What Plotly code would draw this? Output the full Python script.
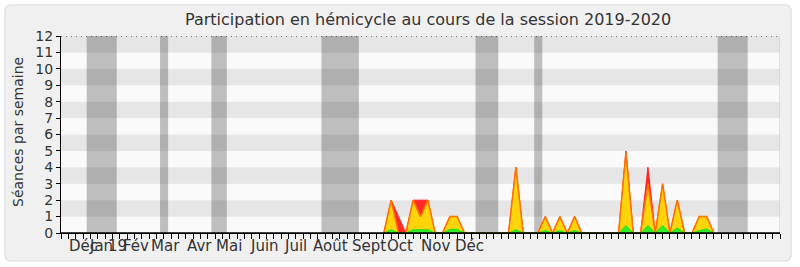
import plotly.graph_objects as go

# ---- data (weekly index on x) ----
weeks = list(range(44, 90))
seances_total = [0, 2, 1, 0, 2, 2, 2, 0, 0, 1, 1, 0, 0, 0, 0, 0, 0, 0, 4, 0, 0, 0, 1, 0, 1, 0, 1, 0,
                 0, 0, 0, 0, 0, 5, 0, 0, 4, 0, 3, 0, 2, 0, 0, 1, 1, 0]
presences = [0, 2, 0, 0, 2, 1, 2, 0, 0, 1, 1, 0, 0, 0, 0, 0, 0, 0, 4, 0, 0, 0, 1, 0, 1, 0, 1, 0,
             0, 0, 0, 0, 0, 4.9, 0, 0, 3, 0, 3, 0, 2, 0, 0, 1, 1, 0]
interventions = [0, 0.2, 0, 0, 0.2, 0.2, 0.2, 0, 0, 0.22, 0.22, 0, 0, 0, 0, 0, 0, 0, 0.2, 0, 0, 0, 0.15, 0,
                 0.15, 0, 0.15, 0, 0, 0, 0, 0, 0, 0.45, 0, 0, 0.45, 0, 0.45, 0, 0.3, 0, 0, 0.15, 0.25, 0]

vacances = [(3.5, 7.6), (13.5, 14.6), (20.5, 22.6), (35.5, 40.6), (56.5, 59.6), (64.5, 65.6), (89.5, 93.6)]

month_labels = ["Déc", "Jan", "19", "Fév", "Mar", "Avr", "Mai", "Juin", "Juil", "Août", "Sept", "Oct", "Nov", "Déc"]
month_pos = [3.0, 5.4, 7.7, 10.2, 14.2, 18.9, 22.9, 27.8, 31.9, 36.8, 42.0, 46.2, 51.0, 55.7]

XMAX = 98
YMAX = 12
FONT = "DejaVu Sans"

# layout geometry (pixels)
W, H = 800, 267
L, R, T, B = 61, 20, 36, 34
pw, ph = W - L - R, H - T - B


def px2paper(x, y):
    return (x - L) / pw, (H - B - y) / ph


fig = go.Figure()

fig.add_trace(go.Scatter(x=weeks, y=seances_total, mode="lines", fill="tozeroy",
                         line=dict(color="#ff2020", width=1), fillcolor="#ff2a2a",
                         hoverinfo="skip", showlegend=False))
fig.add_trace(go.Scatter(x=weeks, y=presences, mode="lines", fill="tozeroy",
                         line=dict(color="#ff7000", width=1.5), fillcolor="#ffd40a",
                         hoverinfo="skip", showlegend=False))
fig.add_trace(go.Scatter(x=weeks, y=interventions, mode="lines", fill="tozeroy",
                         line=dict(color="#22dd22", width=1), fillcolor="#33ee22",
                         hoverinfo="skip", showlegend=False))

shapes = []
# rounded panel
x0, y0, x1, y1, r = 5, 5, 791, 261, 6


def P(x, y):
    a, b = px2paper(x, y)
    return f"{a:.5f},{b:.5f}"


path = (f"M {P(x0 + r, y0)} L {P(x1 - r, y0)} Q {P(x1, y0)} {P(x1, y0 + r)} "
        f"L {P(x1, y1 - r)} Q {P(x1, y1)} {P(x1 - r, y1)} L {P(x0 + r, y1)} "
        f"Q {P(x0, y1)} {P(x0, y1 - r)} L {P(x0, y0 + r)} Q {P(x0, y0)} {P(x0 + r, y0)} Z")
shapes.append(dict(type="path", xref="paper", yref="paper", path=path, fillcolor="#f0f0f0",
                   line=dict(color="#e2e2e2", width=1.5), layer="below"))

# stripes
for k in range(YMAX):
    col = "#e6e6e6" if k % 2 == 1 else "#fafafa"
    shapes.append(dict(type="rect", xref="x", yref="y", x0=0, x1=XMAX, y0=k, y1=k + 1,
                       fillcolor=col, line=dict(width=0), layer="below"))
# vacation bands
for a, b in vacances:
    shapes.append(dict(type="rect", xref="x", yref="y", x0=a, x1=b, y0=0, y1=YMAX,
                       fillcolor="rgba(0,0,0,0.24)", line=dict(width=0), layer="below"))
# right border of plot
shapes.append(dict(type="line", xref="x", yref="y", x0=XMAX, x1=XMAX, y0=0, y1=YMAX,
                   line=dict(color="#c8c8c8", width=1), layer="below"))
# dotted top line
shapes.append(dict(type="line", xref="x", yref="y", x0=0, x1=XMAX, y0=YMAX, y1=YMAX,
                   line=dict(color="#000000", width=1, dash="1px,4px"), layer="above"))
# baseline over the traces
shapes.append(dict(type="line", xref="x", yref="y", x0=0, x1=XMAX, y0=0, y1=0,
                   line=dict(color="#000000", width=1.5), layer="above"))

annotations = []
for lab, pos in zip(month_labels, month_pos):
    annotations.append(dict(x=pos, y=0, xref="x", yref="paper", text=lab, showarrow=False,
                            xanchor="center", yanchor="top", yshift=-2,
                            font=dict(family=FONT, size=15, color="#333333")))
# title
tx, ty = px2paper(428, 20)
annotations.append(dict(x=tx, y=ty, xref="paper", yref="paper",
                        text="Participation en hémicycle au cours de la session 2019-2020",
                        showarrow=False, xanchor="center", yanchor="middle",
                        font=dict(family=FONT, size=16, color="#333333")))
# y axis title
ax, ay = px2paper(18, 132)
annotations.append(dict(x=ax, y=ay, xref="paper", yref="paper", text="Séances par semaine",
                        textangle=-90, showarrow=False, xanchor="center", yanchor="middle",
                        font=dict(family=FONT, size=14, color="#333333")))

fig.update_layout(
    width=W, height=H,
    margin=dict(l=L, r=R, t=T, b=B),
    paper_bgcolor="#ffffff",
    plot_bgcolor="rgba(0,0,0,0)",
    shapes=shapes,
    annotations=annotations,
    showlegend=False,
    xaxis=dict(range=[0, XMAX], showgrid=False, zeroline=False, showline=True,
               linecolor="#000000", linewidth=1, ticks="outside", ticklen=5,
               tickcolor="#000000", tickvals=list(range(XMAX + 1)), showticklabels=False,
               fixedrange=True),
    yaxis=dict(range=[0, YMAX], showgrid=False, zeroline=False, showline=True,
               linecolor="#000000", linewidth=1, ticks="outside", ticklen=4,
               tickcolor="#000000", tickvals=list(range(YMAX + 1)),
               tickfont=dict(family=FONT, size=14, color="#333333"), fixedrange=True),
)

fig.write_html("out.html")
